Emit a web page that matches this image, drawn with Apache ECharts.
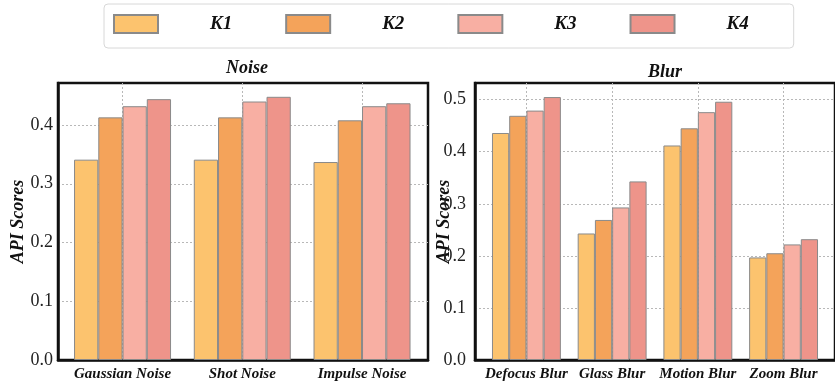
<!DOCTYPE html>
<html>
<head>
<meta charset="utf-8">
<script src="https://cdn.jsdelivr.net/npm/echarts@6/dist/echarts.min.js"></script>
<style>
  html, body { margin: 0; padding: 0; background: #fff; }
  #chart { width: 835px; height: 385px; }
</style>
</head>
<body>
<div id="chart"></div>
<script>
// Categories for the two panels
const noiseCats = ['Gaussian Noise', 'Shot Noise', 'Impulse Noise'];
const blurCats = ['Defocus Blur', 'Glass Blur', 'Motion Blur', 'Zoom Blur'];
const seriesNames = ['K1', 'K2', 'K3', 'K4'];

// API scores per setting (Noise panel)
const noiseK1 = [0.341, 0.341, 0.337];
const noiseK2 = [0.413, 0.413, 0.408];
const noiseK3 = [0.432, 0.440, 0.432];
const noiseK4 = [0.444, 0.448, 0.437];

// API scores per setting (Blur panel)
const blurK1 = [0.436, 0.243, 0.412, 0.197];
const blurK2 = [0.469, 0.269, 0.445, 0.205];
const blurK3 = [0.479, 0.293, 0.476, 0.222];
const blurK4 = [0.505, 0.343, 0.496, 0.232];

// Y tick labels
const noiseTicks = [0.0, 0.1, 0.2, 0.3, 0.4];
const blurTicks = [0.0, 0.1, 0.2, 0.3, 0.4, 0.5];

const colors = ['#FCC36E', '#F4A35A', '#F8AFA3', '#EE948A'];
const serif = '"Liberation Serif", "DejaVu Serif", serif';

const noiseData = [noiseK1, noiseK2, noiseK3, noiseK4];
const blurData = [blurK1, blurK2, blurK3, blurK4];

function xAxisFor(cats, gridIndex, min, max) {
  const idx = cats.map((c, i) => i);
  return {
    type: 'value', gridIndex, min, max,
    axisLine: { show: true, onZero: false, lineStyle: { color: '#111', width: 2.5 } },
    axisTick: { show: false, customValues: idx },
    axisLabel: {
      customValues: idx,
      formatter: v => cats[Math.round(v)] || '',
      fontFamily: serif, fontStyle: 'italic', fontWeight: 'bold', fontSize: 15,
      color: '#111', margin: 7
    },
    splitLine: { show: true, lineStyle: { color: '#b8b8b8', type: [2, 2], width: 1 } }
  };
}

function yAxisFor(ticks, gridIndex, max, nameGap, labelMargin) {
  return {
    type: 'value', gridIndex, min: 0, max,
    name: 'API Scores', nameLocation: 'middle', nameGap,
    nameMoveOverlap: false,
    nameTextStyle: { fontFamily: serif, fontStyle: 'italic', fontWeight: 'bold', fontSize: 18, color: '#111' },
    axisLine: { show: true, onZero: false, lineStyle: { color: '#111', width: 2.5 } },
    axisTick: { show: false, customValues: ticks },
    axisLabel: {
      customValues: ticks,
      formatter: v => v.toFixed(1),
      fontFamily: serif, fontSize: 18, color: '#222', margin: labelMargin
    },
    splitLine: { show: true, lineStyle: { color: '#b8b8b8', type: [2, 2], width: 1 } }
  };
}

const series = [];
seriesNames.forEach((name, k) => {
  const style = { color: colors[k], borderColor: '#8a8a8a', borderWidth: 1 };
  series.push({
    name, type: 'bar', xAxisIndex: 0, yAxisIndex: 0,
    barGap: '0%', barCategoryGap: '19%',
    itemStyle: style,
    data: noiseData[k].map((v, i) => [i, v])
  });
  series.push({
    name, type: 'bar', xAxisIndex: 1, yAxisIndex: 1,
    barGap: '0%', barCategoryGap: '19.6%',
    itemStyle: style,
    data: blurData[k].map((v, i) => [i, v])
  });
});

const chart = echarts.init(document.getElementById('chart'), null, { renderer: 'canvas' });
chart.setOption({
  animation: false,
  backgroundColor: '#fff',
  title: [
    { text: 'Noise', left: 221, top: 54,
      textStyle: { fontFamily: serif, fontStyle: 'italic', fontWeight: 'bold', fontSize: 18, color: '#111' } },
    { text: 'Blur', left: 643, top: 58,
      textStyle: { fontFamily: serif, fontStyle: 'italic', fontWeight: 'bold', fontSize: 18, color: '#111' } }
  ],
  legend: {
    data: seriesNames,
    left: 104, top: 4,
    padding: [10, 45, 14, 9],
    itemWidth: 44, itemHeight: 18, itemGap: 53,
    icon: 'rect',
    backgroundColor: '#fff',
    borderColor: '#d8d8d8', borderWidth: 1, borderRadius: 4,
    textStyle: {
      fontFamily: serif, fontStyle: 'italic', fontWeight: 'bold', fontSize: 19,
      color: '#111', padding: [0, 0, 0, 47], lineHeight: 19
    }
  },
  grid: [
    { left: 58, top: 83, width: 370, height: 277, show: true,
      borderColor: '#111', borderWidth: 2.5, backgroundColor: 'transparent' },
    { left: 475, top: 83, width: 371, height: 277, show: true,
      borderColor: '#111', borderWidth: 2.5, backgroundColor: 'transparent' }
  ],
  xAxis: [
    xAxisFor(noiseCats, 0, -0.539, 2.551),
    xAxisFor(blurCats, 1, -0.6, 3.6)
  ],
  yAxis: [
    yAxisFor(noiseTicks, 0, 0.4715, 31, 5),
    yAxisFor(blurTicks, 1, 0.532, 22, 9)
  ],
  series
});
</script>
</body>
</html>
